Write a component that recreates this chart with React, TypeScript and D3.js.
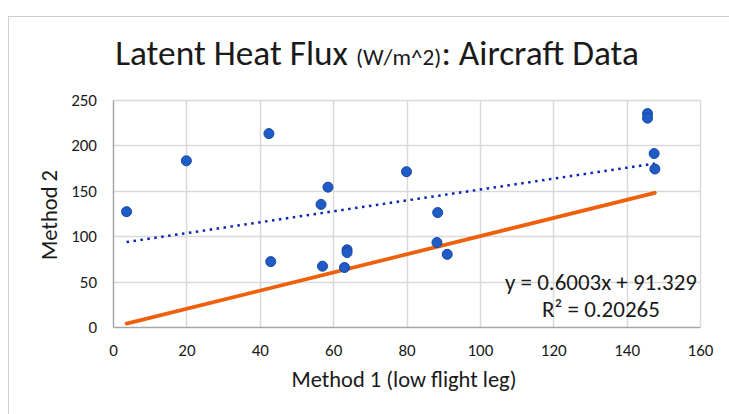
import React, { useEffect, useRef } from 'react'
import * as d3 from 'd3'

// Method 1 (low flight leg) vs Method 2, latent heat flux W/m^2
const method1 = [3.7, 20, 42.5, 43, 56.7, 58.6, 57.1, 63.8, 63.8, 63.1, 80, 88.5, 88.3, 91.1, 145.7, 145.7, 147.5, 147.7]
const method2 = [127, 183, 213, 72, 135, 154, 67, 85, 82, 65.5, 171, 126, 93, 80, 235, 230, 191, 174]
const xTicks = [0, 20, 40, 60, 80, 100, 120, 140, 160]
const yTicks = [0, 50, 100, 150, 200, 250]
const slope = 0.6003
const intercept = 91.329
const eqLabel = 'y = 0.6003x + 91.329'
const r2Label = 'R² = 0.20265'

const W = 729
const H = 414
const FONT = "Carlito, Calibri, Lato, sans-serif"

// scale the font sizes of a text (and its tspans) so it is `target` px wide
function fitWidth(sel: any, target: number) {
  const el = sel.node() as SVGTextElement
  const w = el.getComputedTextLength()
  if (!w) return
  const k = target / w
  const all = [el, ...Array.from(el.querySelectorAll('tspan'))] as SVGElement[]
  all.forEach(n => {
    const fs = parseFloat(n.style.fontSize)
    if (fs) n.style.fontSize = (fs * k).toFixed(2) + 'px'
  })
}

export default function App() {
  const node = useRef<SVGSVGElement | null>(null)

  useEffect(() => {
    const svg = d3.select(node.current)
    svg.selectAll('*').remove()

    const margin = { top: 100, right: 29, bottom: 87, left: 113 }
    const width = W - margin.left - margin.right
    const height = H - margin.top - margin.bottom

    const x = d3.scaleLinear().domain([0, 160]).range([0, width])
    const y = d3.scaleLinear().domain([0, 250]).range([height, 0])

    // chart frame
    svg.append('rect')
      .attr('x', 8.5).attr('y', 16.5)
      .attr('width', 760).attr('height', 420)
      .attr('fill', '#fff')
      .attr('stroke', '#d0d0d0')

    // title
    const title = svg.append('text')
      .attr('x', 377).attr('y', 65)
      .attr('text-anchor', 'middle')
      .style('font-family', FONT)
      .style('fill', '#1a1a1a')
    title.append('tspan').style('font-size', '32px').text('Latent Heat Flux ')
    title.append('tspan').style('font-size', '21px').text('(W/m^2)')
    title.append('tspan').style('font-size', '32px').text(': Aircraft Data')
    fitWidth(title, 524)

    const g = svg.append('g')
      .attr('transform', 'translate(' + margin.left + ',' + margin.top + ')')

    // gridlines
    g.append('g')
      .selectAll('line')
      .data(yTicks.slice(1))
      .enter().append('line')
      .attr('x1', 0).attr('x2', width)
      .attr('y1', d => Math.round(y(d)) + 0.5).attr('y2', d => Math.round(y(d)) + 0.5)
      .style('stroke', '#d9d9d9')
      .style('stroke-width', 1.5)
    g.append('g')
      .selectAll('line')
      .data(xTicks.slice(1))
      .enter().append('line')
      .attr('y1', 0).attr('y2', height)
      .attr('x1', d => Math.round(x(d)) + 0.5).attr('x2', d => Math.round(x(d)) + 0.5)
      .style('stroke', '#d9d9d9')
      .style('stroke-width', 1.5)

    // axes
    const xAxis = g.append('g')
      .attr('transform', 'translate(0,' + height + ')')
      .call(d3.axisBottom(x).tickValues(xTicks).tickSize(0).tickPadding(17))
    xAxis.select('.domain').style('stroke', '#a6a6a6').style('stroke-width', 1.5)
    xAxis.selectAll('text').style('font-family', FONT).style('font-size', '17px').style('fill', '#1a1a1a')

    const yAxis = g.append('g')
      .call(d3.axisLeft(y).tickValues(yTicks).tickSize(0).tickPadding(16))
    yAxis.select('.domain').style('stroke', '#a6a6a6').style('stroke-width', 1.5)
    yAxis.selectAll('text').style('font-family', FONT).style('font-size', '17px').style('fill', '#1a1a1a')

    // axis titles
    const xTitle = svg.append('text')
      .attr('x', 404).attr('y', 387)
      .attr('text-anchor', 'middle')
      .style('font-family', FONT).style('font-size', '20px').style('fill', '#1a1a1a')
      .text('Method 1 (low flight leg)')
    fitWidth(xTitle, 225)
    const yTitle = svg.append('text')
      .attr('transform', 'translate(57,215) rotate(-90)')
      .attr('text-anchor', 'middle')
      .style('font-family', FONT).style('font-size', '20px').style('fill', '#1a1a1a')
      .text('Method 2')
    fitWidth(yTitle, 90)

    // 1:1 line across the data range
    const xr = d3.extent(method1) as [number, number]
    g.append('line')
      .attr('x1', x(xr[0])).attr('y1', y(xr[0]))
      .attr('x2', x(xr[1])).attr('y2', y(xr[1]))
      .style('stroke', '#ee600c')
      .style('stroke-width', 3.75)
      .style('stroke-linecap', 'round')

    // linear trendline
    g.append('line')
      .attr('x1', x(xr[0])).attr('y1', y(slope * xr[0] + intercept))
      .attr('x2', x(xr[1])).attr('y2', y(slope * xr[1] + intercept))
      .style('stroke', '#0a24b4')
      .style('stroke-width', 2.5)
      .style('stroke-dasharray', '2.5,4.5')

    // points
    g.selectAll('circle')
      .data(method1.map((d, i) => ({ x: d, y: method2[i] })))
      .enter().append('circle')
      .attr('r', 5)
      .attr('cx', d => x(d.x))
      .attr('cy', d => y(d.y))
      .style('fill', '#1f5cc6')
      .style('stroke', '#1646a3')
      .style('stroke-width', 1)

    // trendline label
    const eq = svg.append('text')
      .attr('x', 601).attr('y', 290)
      .attr('text-anchor', 'middle')
      .style('font-family', FONT).style('font-size', '19px').style('fill', '#1a1a1a')
      .text(eqLabel)
    fitWidth(eq, 192)
    const r2 = svg.append('text')
      .attr('x', 601).attr('y', 317)
      .attr('text-anchor', 'middle')
      .style('font-family', FONT).style('font-size', '19px').style('fill', '#1a1a1a')
      .text(r2Label)
    fitWidth(r2, 118)
  }, [])

  return (
    <svg
      ref={node}
      width={W}
      height={H}
      style={{ position: 'absolute', left: 0, top: 0, background: '#fff' }}
    />
  )
}
